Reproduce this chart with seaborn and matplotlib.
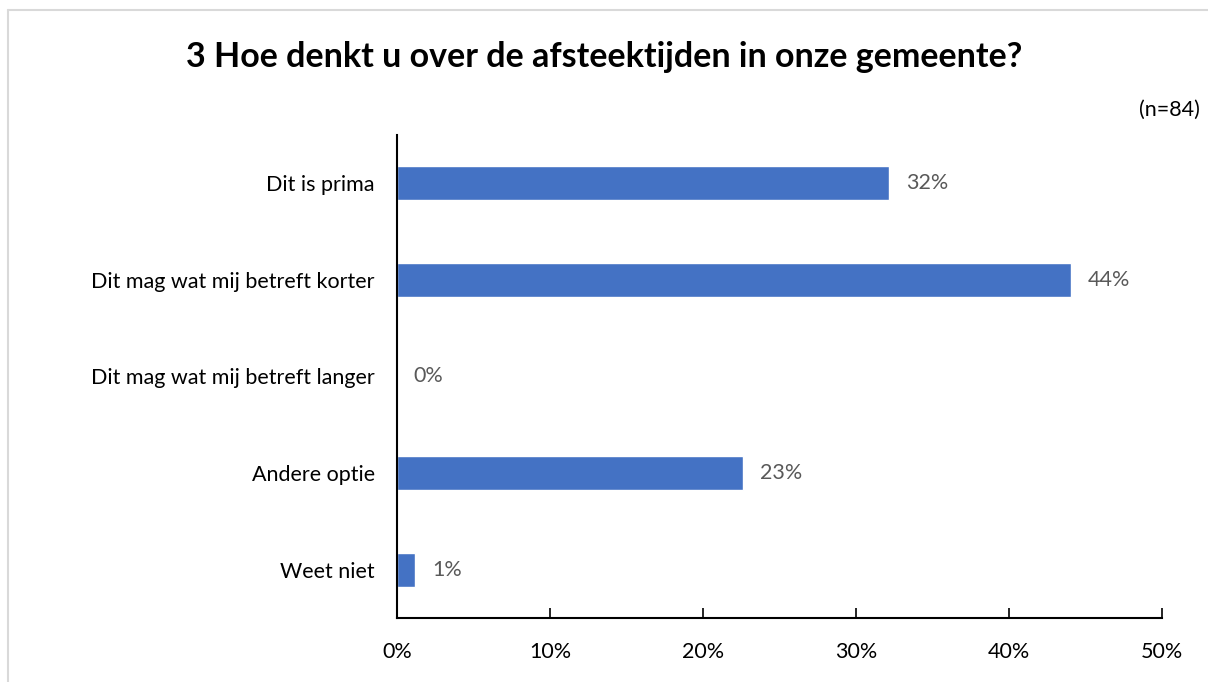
import seaborn as sns
import pandas as pd
from matplotlib import pyplot as plt
from matplotlib.lines import Line2D
from matplotlib.ticker import PercentFormatter

TITLE = '3 Hoe denkt u over de afsteektijden in onze gemeente?'
N_TXT = '(n=84)'
CATEGORIES = ['Dit is prima',
              'Dit mag wat mij betreft korter',
              'Dit mag wat mij betreft langer',
              'Andere optie',
              'Weet niet']
COUNTS = [27, 37, 0, 19, 1]
TOTAL = 84
X_TICKS = [0, 10, 20, 30, 40, 50]

BAR_COLOR = '#4472C4'
FONT = ['Lato', 'DejaVu Sans']

if __name__ == '__main__':
    sns.set_style('white')
    plt.rcParams['font.family'] = FONT

    pct = [c / TOTAL * 100 for c in COUNTS]
    data_pd = pd.DataFrame({'answer': CATEGORIES, 'pct': pct})

    fig = plt.figure(figsize=(12.08, 6.82), dpi=100)
    ax = fig.add_axes([397 / 1208, 64 / 682, 765 / 1208, 483 / 682])

    sns.barplot(data=data_pd, y='answer', x='pct', color=BAR_COLOR,
                width=0.35, saturation=1, ax=ax)

    for i, v in enumerate(pct):
        ax.text(v + 1.1, i, f'{round(v)}%', va='center', ha='left',
                fontsize=15.5, color='#595959')

    ax.set_xlim(0, 50)
    ax.set_ylim(4.5, -0.5)
    ax.set_xticks(X_TICKS)
    ax.xaxis.set_major_formatter(PercentFormatter(decimals=0))
    ax.set_xlabel('')
    ax.set_ylabel('')

    for side in ['top', 'right']:
        ax.spines[side].set_visible(False)
    for side in ['left', 'bottom']:
        ax.spines[side].set_color('black')
        ax.spines[side].set_linewidth(1.5)

    ax.tick_params(axis='x', bottom=True, direction='in', length=7, width=1.2,
                   color='black', labelsize=15.5, labelcolor='black', pad=17)
    ax.tick_params(axis='y', left=False, length=0, labelsize=15.5,
                   labelcolor='black', pad=16)

    fig.text(0.5, 1 - 57 / 682, TITLE, ha='center', va='center',
             fontsize=24.5, fontweight='bold', color='black')
    fig.text(1200 / 1208, 1 - 110 / 682, N_TXT, ha='right', va='center',
             fontsize=15.5, color='black')

    # light frame around the chart, cut off at right and bottom
    fig.add_artist(Line2D([8 / 1208, 1], [1 - 10 / 682] * 2, color='#d9d9d9', lw=1.5,
                          transform=fig.transFigure))
    fig.add_artist(Line2D([8 / 1208] * 2, [0, 1 - 10 / 682], color='#d9d9d9', lw=1.5,
                          transform=fig.transFigure))

    fig.savefig('out.png', dpi=100)
